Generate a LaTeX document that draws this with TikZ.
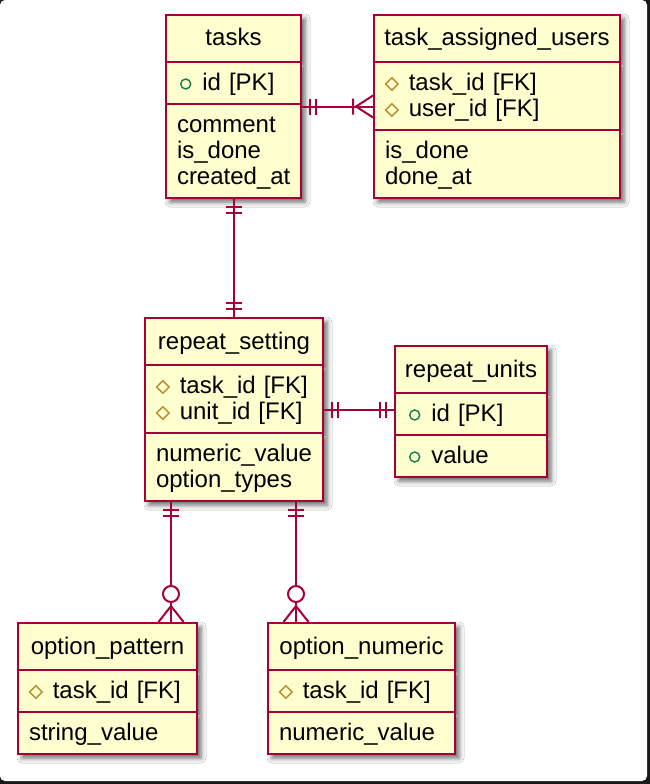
\documentclass[tikz,border=0pt]{standalone}
\usepackage{fontspec}
\setmainfont{Liberation Sans}
\usepackage{tikz}
\usetikzlibrary{shapes.multipart,shadows.blur}
\definecolor{cream}{RGB}{254,254,206}
\definecolor{crimson}{RGB}{168,0,54}
\definecolor{pkgreen}{RGB}{18,128,70}
\definecolor{fkgold}{RGB}{184,140,40}
\newcommand{\rw}{\rule[-5pt]{0pt}{24pt}}
\newcommand{\rows}[1]{\rw#1\rw}
\newcommand{\ttl}[1]{\makebox[\linewidth]{\rule[-7pt]{0pt}{29pt}#1}}
\newcommand{\pk}{\hspace*{3pt}\tikz[baseline=-6pt]\draw[pkgreen, line width=1.4pt]
  (0,0) circle (5pt);\hspace{11pt}}
\newcommand{\fk}{\tikz[baseline=-6pt]\draw[fkgold, line width=1.4pt]
  (0,6.2pt) -- (6.2pt,0) -- (0,-6.2pt) -- (-6.2pt,0) -- cycle;\hspace{10pt}}

\begin{document}
\begin{tikzpicture}[x=1pt, y=1pt,
  entity/.style={rectangle split, rectangle split parts=3, draw=crimson, fill=cream,
    line width=2pt, inner xsep=11pt, inner ysep=8pt, anchor=north west,
    font=\fontsize{24}{26}\selectfont,
    blur shadow={shadow xshift=4pt, shadow yshift=-4pt, shadow blur radius=5pt,
      shadow opacity=60}},
  rel/.style={crimson, line width=2pt},
  one/.pic={\draw[rel] (8,-8) -- (8,8) (14,-8) -- (14,8);},
  onemany/.pic={\draw[rel] (20,-8) -- (20,8) (0,11) -- (17,0) -- (0,-11);},
  zeromany/.pic={\draw[rel] (0,12.5) -- (16,0) -- (0,-12.5);
    \draw[rel, fill=white] (28,0) circle (8);}]
  \useasboundingbox (0,0) rectangle (650,-784);
  % Le fond et son cadre.
  \fill[black!90] (0,0) rectangle (650,-784);
  \fill[white, rounded corners=5pt] (0,0) rectangle (647,-781);
  % Les tables.
  \node[entity, text width=113pt] (ts) at (165,-14)
    {\ttl{tasks}\nodepart{two}\rows{\pk id [PK]}%
     \nodepart{three}\rows{comment\\is\_done\\created\_at}};
  \node[entity, text width=224pt] (tau) at (373,-14)
    {\ttl{task\_assigned\_users}\nodepart{two}\rows{\fk task\_id [FK]\\\fk user\_id [FK]}%
     \nodepart{three}\rows{is\_done\\done\_at}};
  \node[entity, text width=156pt] (rs) at (144,-317)
    {\ttl{repeat\_setting}\nodepart{two}\rows{\fk task\_id [FK]\\\fk unit\_id [FK]}%
     \nodepart{three}\rows{numeric\_value\\option\_types}};
  \node[entity, text width=130pt] (ru) at (394,-345)
    {\ttl{repeat\_units}\nodepart{two}\rows{\pk id [PK]}%
     \nodepart{three}\rows{\pk value}};
  \node[entity, text width=157pt] (op) at (17,-622)
    {\ttl{option\_pattern}\nodepart{two}\rows{\fk task\_id [FK]}%
     \nodepart{three}\rows{string\_value}};
  \node[entity, text width=165pt] (on) at (267,-622)
    {\ttl{option\_numeric}\nodepart{two}\rows{\fk task\_id [FK]}%
     \nodepart{three}\rows{numeric\_value}};
  % Les relations.
  \coordinate (rs-op) at ([xshift=-63pt]rs.south);
  \coordinate (rs-on) at ([xshift=62pt]rs.south);
  \draw[rel] (ts.east) -- (ts.east -| tau.west);
  \pic at (ts.east) {one};
  \pic[rotate=180] at (ts.east -| tau.west) {onemany};
  \draw[rel] (ts.south) -- (ts.south |- rs.north);
  \pic[rotate=-90] at (ts.south) {one};
  \pic[rotate=90] at (ts.south |- rs.north) {one};
  \draw[rel] (rs.east) -- (rs.east -| ru.west);
  \pic at (rs.east) {one};
  \pic[rotate=180] at (rs.east -| ru.west) {one};
  \foreach \t/\e in {rs-op/op, rs-on/on} {
    \draw[rel] (\t) -- (\t |- \e.north);
    \pic[rotate=-90] at (\t) {one};
    \pic[rotate=90] at (\t |- \e.north) {zeromany};
  }
\end{tikzpicture}
\end{document}
